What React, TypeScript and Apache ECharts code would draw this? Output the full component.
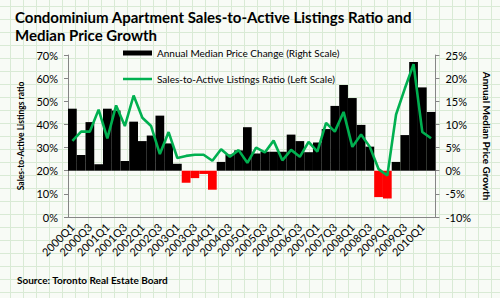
import React, { useEffect, useRef } from "react";
import * as echarts from "echarts";

const quarters = [
  "2000Q1", "2000Q2", "2000Q3", "2000Q4",
  "2001Q1", "2001Q2", "2001Q3", "2001Q4",
  "2002Q1", "2002Q2", "2002Q3", "2002Q4",
  "2003Q1", "2003Q2", "2003Q3", "2003Q4",
  "2004Q1", "2004Q2", "2004Q3", "2004Q4",
  "2005Q1", "2005Q2", "2005Q3", "2005Q4",
  "2006Q1", "2006Q2", "2006Q3", "2006Q4",
  "2007Q1", "2007Q2", "2007Q3", "2007Q4",
  "2008Q1", "2008Q2", "2008Q3", "2008Q4",
  "2009Q1", "2009Q2", "2009Q3", "2009Q4",
  "2010Q1", "2010Q2",
];

// Annual median price change, % (right scale)
const priceChange = [
  13.4, 3.4, 10.5, 1.4, 13.4, 13.0, 2.1, 10.6, 6.4, 7.6, 11.9, 5.9, 1.5, -2.6,
  -1.6, -0.7, -4.1, 1.9, 3.5, 4.4, 9.4, 3.7, 4.1, 4.1, 4.1, 7.8, 6.4, 4.0,
  6.1, 9.0, 14.0, 18.5, 15.7, 9.9, 5.2, -5.7, -6.0, 1.9, 7.7, 23.5, 18.0, 12.7,
];

// Sales-to-active listings ratio, % (left scale)
const salesRatio = [
  32.9, 36.9, 36.9, 46.4, 34.0, 48.2, 39.3, 52.5, 42.9, 39.3, 27.2, 36.7, 25.5,
  26.4, 26.9, 26.9, 24.3, 29.3, 26.0, 28.9, 23.4, 30.0, 27.9, 33.0, 24.5, 29.0,
  26.0, 32.5, 28.3, 40.7, 36.9, 45.4, 30.3, 35.7, 30.3, 20.7, 17.9, 44.3, 55.5,
  66.0, 36.7, 34.0,
];

const leftTicks = { min: 0, max: 70, interval: 10 };
const rightTicks = { min: -10, max: 25, interval: 5 };

const BAR_NAME = "Annual Median Price Change (Right Scale)";
const LINE_NAME = "Sales-to-Active Listings Ratio (Left Scale)";
const FONT = "Lato";
const AXIS_GREY = "#868686";
const GREEN = "#00b050";

export default function App() {
  const ref = useRef<HTMLDivElement>(null);

  useEffect(() => {
    if (!ref.current) return;
    const chart = echarts.init(ref.current, null, { renderer: "svg" });
    chart.setOption({
      animation: false,
      backgroundColor: "transparent",
      textStyle: { fontFamily: FONT, color: "#000" },
      title: {
        text: "Condominium Apartment Sales-to-Active Listings Ratio and\nMedian Price Growth",
        left: 15,
        top: 8,
        padding: 0,
        textStyle: {
          fontFamily: FONT,
          fontSize: 15,
          fontWeight: "bold",
          color: "#000",
          lineHeight: 18,
        },
      },
      legend: {
        orient: "vertical",
        left: 123,
        top: 48,
        padding: 0,
        itemGap: 16,
        itemWidth: 29,
        itemHeight: 5,
        symbolKeepAspect: true,
        textStyle: { fontFamily: FONT, fontSize: 10, color: "#000" },
        data: [
          { name: BAR_NAME, icon: "rect" },
          { name: LINE_NAME, icon: "path://M0 0H58V5H0Z", itemStyle: { color: GREEN } },
        ],
      },
      grid: { left: 68, right: 57, top: 55, bottom: 81, containLabel: false },
      xAxis: {
        type: "category",
        data: quarters,
        boundaryGap: true,
        axisLine: { lineStyle: { color: AXIS_GREY, width: 1 } },
        axisTick: { interval: 1, length: 4, lineStyle: { color: AXIS_GREY } },
        axisLabel: {
          interval: 1,
          rotate: 45,
          margin: 8,
          fontFamily: FONT,
          fontSize: 11,
          color: "#000",
        },
      },
      yAxis: [
        {
          type: "value",
          position: "left",
          ...leftTicks,
          name: "Sales-to-Active Listings ratio",
          nameLocation: "middle",
          nameGap: 43,
          nameTextStyle: { fontFamily: FONT, fontSize: 8.5, fontWeight: "bold", color: "#000" },
          axisLine: { show: true, lineStyle: { color: AXIS_GREY } },
          axisTick: { show: true, length: 4, lineStyle: { color: AXIS_GREY } },
          axisLabel: { formatter: "{value}%", margin: 10, fontFamily: FONT, fontSize: 11, color: "#000" },
          splitLine: { show: false },
        },
        {
          type: "value",
          position: "right",
          ...rightTicks,
          name: "Annual Median Price Growth",
          nameLocation: "middle",
          nameRotate: -90,
          nameGap: 44,
          nameTextStyle: { fontFamily: FONT, fontSize: 10, fontWeight: "bold", color: "#000" },
          axisLine: { show: true, lineStyle: { color: AXIS_GREY } },
          axisTick: { show: true, length: 4, lineStyle: { color: AXIS_GREY } },
          axisLabel: { formatter: "{value}%", margin: 10, fontFamily: FONT, fontSize: 11, color: "#000" },
          splitLine: { show: false },
        },
      ],
      series: [
        {
          name: BAR_NAME,
          type: "bar",
          yAxisIndex: 1,
          barCategoryGap: "0%",
          itemStyle: { color: "#000" },
          data: priceChange.map((v) => ({
            value: v,
            itemStyle: { color: v < 0 ? "#ff0000" : "#000000" },
          })),
        },
        {
          name: LINE_NAME,
          type: "line",
          yAxisIndex: 0,
          symbol: "none",
          lineStyle: { color: GREEN, width: 2.6 },
          itemStyle: { color: GREEN },
          data: salesRatio,
          z: 3,
        },
      ],
      graphic: [
        {
          type: "text",
          left: 17,
          top: 275,
          style: {
            text: "Source: Toronto Real Estate Board",
            fontFamily: FONT,
            fontSize: 10,
            fontWeight: "bold",
            fill: "#000",
          },
        },
      ],
    });
    return () => chart.dispose();
  }, []);

  return (
    <div
      style={{
        position: "fixed",
        left: 0,
        top: 0,
        width: 500,
        height: 298,
        backgroundColor: "#f8fbf6",
        backgroundImage:
          "linear-gradient(#d9ead5 1px, transparent 1px), linear-gradient(90deg, #d9ead5 1px, transparent 1px)",
        backgroundSize: "13px 13px",
        backgroundPosition: "10px 6px",
      }}
    >
      <div ref={ref} style={{ width: 500, height: 298 }} />
    </div>
  );
}
